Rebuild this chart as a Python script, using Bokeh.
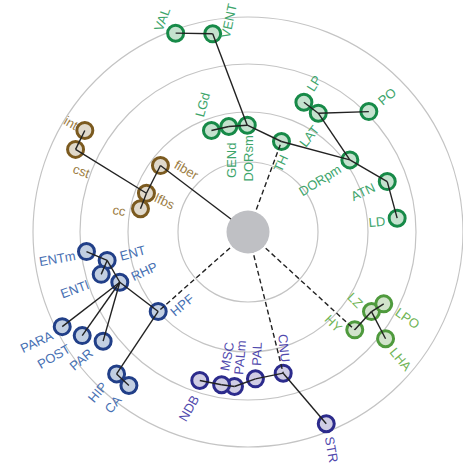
import math
from bokeh.plotting import figure
from bokeh.models import Range1d, ColumnDataSource
from bokeh.core.properties import value
from bokeh.embed import file_html
from bokeh.resources import INLINE

# ---------------- data ----------------
names = ["root",
         "TH", "DORsm", "VENT", "VAL", "GENd", "LGd", "DORpm", "LAT", "LP", "PO", "ATN", "LD",
         "fiber", "lfbs", "cc", "cst", "int",
         "HPF", "RHP", "ENT", "ENTm", "ENTl", "PARA", "POST", "PAR", "HIP", "CA",
         "CNU", "PAL", "PALm", "MSC", "NDB", "STR",
         "HY", "LZ", "LPO", "LHA"]
parents = [None,
           "root", "TH", "DORsm", "VENT", "DORsm", "GENd", "TH", "DORpm", "LAT", "LAT", "DORpm", "ATN",
           "root", "fiber", "lfbs", "lfbs", "cst",
           "root", "HPF", "RHP", "ENT", "ENT", "RHP", "RHP", "RHP", "HPF", "HIP",
           "root", "CNU", "PAL", "PALm", "MSC", "CNU",
           "root", "HY", "LZ", "LZ"]
groups = ["root",
          "TH", "TH", "TH", "TH", "TH", "TH", "TH", "TH", "TH", "TH", "TH", "TH",
          "fiber", "fiber", "fiber", "fiber", "fiber",
          "HPF", "HPF", "HPF", "HPF", "HPF", "HPF", "HPF", "HPF", "HPF", "HPF",
          "CNU", "CNU", "CNU", "CNU", "CNU", "CNU",
          "HY", "HY", "HY", "HY"]
# polar position of each node (distance from the root, angle in degrees)
radius = [0,
          96.5, 106.8, 201.3, 211.6, 107.2, 107.9, 124.8, 138.0, 141.3, 170.6, 148.1, 149.8,
          109.9, 108.7, 110.0, 191.2, 192.2,
          119.9, 137.7, 143.7, 162.7, 152.8, 208.5, 195.5, 181.4, 193.4, 194.3,
          145.5, 147.0, 155.1, 155.0, 156.1, 207.1,
          144.8, 146.9, 153.6, 174.1]
angle = [0,
         69.7, 90.4, 100.1, 110.0, 100.3, 109.8, 35.3, 59.4, 66.7, 44.9, 19.9, 5.3,
         142.8, 159.1, 167.8, 154.4, 148.1,
         221.5, 201.4, 191.4, 186.9, 196.1, 207.0, 212.0, 217.0, 227.2, 232.2,
         284.0, 272.9, 265.0, 260.2, 252.0, 292.2,
         317.5, 327.2, 332.1, 322.2]
dashed_children = ["TH", "HPF", "CNU", "HY"]
ring_radii = [70, 120, 168, 215]

# ---------------- styles ----------------
STROKE = {"TH": "#178a48", "fiber": "#7b5a1f", "HPF": "#213f88", "CNU": "#2c2b8c", "HY": "#4f9a3d"}
FILL = {"TH": "#c4e2ce", "fiber": "#e0d9cb", "HPF": "#c2cfe2", "CNU": "#d0cde4", "HY": "#d1e3cb"}
TEXTC = {"TH": "#3da56b", "fiber": "#9c7d44", "HPF": "#4770b3", "CNU": "#5149ad", "HY": "#6fb454"}

# label placement: screen offset (dx, dy down) from node, rotation, alignment
LABEL = {
    "VAL": (-17.5, -2.7, 70, "left"), "VENT": (12.5, 4, 78, "left"),
    "LGd": (-12, -14, 75, "left"), "GENd": (3, 16, 90, "right"),
    "DORsm": (1, 10, 90, "right"), "TH": (3, 14, 65, "right"),
    "LAT": (-2, 14, 52, "right"), "LP": (6, -12, 58, "left"),
    "PO": (11, -9, 40, "left"), "DORpm": (-10, 8, 32, "right"),
    "ATN": (-13, 5, 25, "right"), "LD": (-12, 3, 5, "right"),
    "int": (-8, -4, -30, "right"), "cst": (-2, 19, -20, "left"),
    "fiber": (15, -2, -30, "left"), "lfbs": (9, 4, -25, "left"),
    "cc": (-15, 3, -10, "right"),
    "ENTm": (-11, 4, 10, "right"), "ENT": (13, -4, 15, "left"),
    "ENTl": (-13, 10, 20, "right"), "RHP": (12, -5, 25, "left"),
    "HPF": (14, 2, 40, "left"), "PARA": (-10, 8, 25, "right"),
    "POST": (-13, 12, 30, "right"), "PAR": (-12, 10, 40, "right"),
    "HIP": (-12, 10, 50, "right"), "CA": (-10, 12, 50, "right"),
    "NDB": (-4, 16, 60, "right"), "MSC": (3, -14, 80, "left"),
    "PALm": (4, -12, 85, "left"), "PAL": (1, -13, 88, "left"),
    "CNU": (2, -11, -85, "right"), "STR": (3, 13, -80, "left"),
    "HY": (-15, 0, -45, "right"), "LZ": (-11, -6, -45, "right"),
    "LPO": (13, 7, -35, "left"), "LHA": (7, 11, -50, "left"),
}

# ---------------- derived positions ----------------
xs = [r * math.cos(math.radians(a)) for r, a in zip(radius, angle)]
ys = [r * math.sin(math.radians(a)) for r, a in zip(radius, angle)]
pos = {n: (x, y) for n, x, y in zip(names, xs, ys)}

W, H = 463, 468
cx, cy = 247.5, 231.5
p = figure(width=W, height=H, output_backend="svg", toolbar_location=None,
           x_range=Range1d(-cx, W - cx), y_range=Range1d(-(H - cy), cy),
           min_border=0, background_fill_color="white", border_fill_color="white")
p.axis.visible = False
p.grid.visible = False
p.outline_line_color = None

# rings
p.circle(x=[0] * len(ring_radii), y=[0] * len(ring_radii), radius=ring_radii,
         fill_color=None, line_color="#c4c4c4", line_width=1.2)

# nodes
nd = dict(x=[], y=[], fill=[], stroke=[])
lb = dict(x=[], y=[], text=[], color=[], angle=[], align=[])
for n, g, x, y in zip(names, groups, xs, ys):
    if n == "root":
        continue
    nd["x"].append(x); nd["y"].append(y)
    nd["fill"].append(FILL[g]); nd["stroke"].append(STROKE[g])
    dx, dy, ang, al = LABEL[n]
    lb["x"].append(x + dx); lb["y"].append(y - dy)
    lb["text"].append(n); lb["color"].append(TEXTC[g])
    lb["angle"].append(ang); lb["align"].append(al)

p.scatter(x="x", y="y", source=ColumnDataSource(nd), size=16, fill_color="fill",
          line_color="stroke", line_width=3)

# links (drawn over the nodes)
sol = dict(x0=[], y0=[], x1=[], y1=[])
das = dict(x0=[], y0=[], x1=[], y1=[])
for n, par in zip(names, parents):
    if par is None:
        continue
    d = das if (par == "root" and n in dashed_children) else sol
    d["x0"].append(pos[par][0]); d["y0"].append(pos[par][1])
    d["x1"].append(pos[n][0]); d["y1"].append(pos[n][1])
p.segment(x0="x0", y0="y0", x1="x1", y1="y1", source=ColumnDataSource(sol),
          line_color="#222222", line_width=1.4)
p.segment(x0="x0", y0="y0", x1="x1", y1="y1", source=ColumnDataSource(das),
          line_color="#222222", line_width=1.4, line_dash="5 3")

# root
p.circle(x=[0], y=[0], radius=21.5, fill_color="#bfc0c4", line_color=None)

p.text(x="x", y="y", text="text", source=ColumnDataSource(lb), angle="angle",
       angle_units="deg", text_align="align", text_baseline="middle",
       text_color="color", text_font=value("Liberation Sans"), text_font_size="13px")

open("out.html", "w").write(file_html(p, INLINE))
